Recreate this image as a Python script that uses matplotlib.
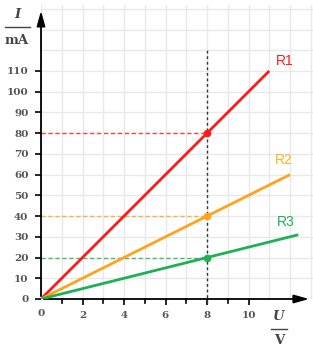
import matplotlib
matplotlib.use("Agg")
import matplotlib.pyplot as plt
from matplotlib.lines import Line2D

# U-I characteristics of three resistors
names = ["R1", "R2", "R3"]
u_end = [11, 12, 12.4]          # V, where each line stops
i_end = [110, 60, 31]           # mA
colors = ["#ff1a1a", "#ffa31a", "#1db054"]
label_colors = ["#ff1a1a", "#ffb31a", "#1db054"]
label_pos = [(11.75, 115), (11.7, 67), (11.8, 37)]

u_read = 8                      # V, reading line
i_read = [80, 40, 20]           # mA at U = 8 V

x_ticks = [2, 4, 6, 8, 10]
y_ticks = list(range(0, 120, 10))

W, H = 313, 354
fig = plt.figure(figsize=(W / 100, H / 100), dpi=100)
ax = fig.add_axes([41 / W, 55 / H, (W - 41) / W, (299 - 5) / H])
ax.set_xlim(0, 272 / 20.75)
ax.set_ylim(0, 294 / 2.073)

# ticks + grid
ax.set_xticks(x_ticks)
ax.set_yticks(y_ticks)
ax.set_xticks(range(0, 14), minor=True)
ax.set_yticks(range(0, 150, 10), minor=True)
ax.grid(which="both", color="#e8e8e8", lw=1)
ax.set_axisbelow(True)
for s in ax.spines.values():
    s.set_visible(False)
ax.tick_params(which="minor", length=0)
ax.xaxis.set_tick_params(which="major", length=4, width=1.2, pad=5, color="black")
ax.yaxis.set_tick_params(which="major", length=4, width=1.2, pad=5, color="black")
for lab in ax.get_xticklabels() + ax.get_yticklabels():
    lab.set_fontfamily("DejaVu Serif")
    lab.set_fontweight("bold")
    lab.set_fontsize(7.5)
    lab.set_color("#555555")
ax.text(0, -4.6, "0", ha="center", va="top", family="DejaVu Serif", weight="bold",
        fontsize=7.5, color="#555555")
for x in [1, 3, 5, 7, 9]:
    ax.plot([x, x], [0, -2], color="black", lw=1.2, clip_on=False)

# axes with arrows
arrow = dict(arrowstyle="-|>,head_length=0.9,head_width=0.25", color="black", lw=1.3)
ax.annotate("", xy=(272 / 20.75 - 0.05, 0), xytext=(0, 0), arrowprops=arrow,
            annotation_clip=False)
ax.annotate("", xy=(0, 291 / 2.073), xytext=(0, 0), arrowprops=arrow,
            annotation_clip=False)

# reading lines
ax.plot([u_read, u_read], [-2, 120], color="#333333", lw=1, ls=(0, (2, 2)), clip_on=False)
for val, c in zip(i_read, colors):
    ax.plot([0, u_read], [val, val], color=c, lw=1, ls=(0, (3, 2)), alpha=0.8)

# characteristic lines
for n, ue, ie, c, lc, (lx, ly) in zip(names, u_end, i_end, colors, label_colors, label_pos):
    ax.plot([0, ue], [0, ie], color=c, lw=2, solid_capstyle="butt", zorder=3)
    ax.text(lx, ly, n, color=lc, fontsize=10, ha="center", va="center",
            family="Liberation Sans", clip_on=False)
for val, c in zip(i_read, colors):
    ax.plot(u_read, val, marker="o", ms=4.5, color=c, zorder=4)

# unit fractions
txt = dict(family="DejaVu Serif", weight="bold", fontsize=9.5, color="#444444",
           ha="center", va="center")
fig.text(17 / W, 1 - 14 / H, "I", style="italic", **txt)
fig.add_artist(Line2D([5 / W, 30 / W], [1 - 27 / H] * 2, color="#444444", lw=1))
fig.text(17 / W, 1 - 40 / H, "mA", **txt)
fig.text(279 / W, 1 - 317 / H, "U", style="italic", **txt)
fig.add_artist(Line2D([271 / W, 287 / W], [1 - 329 / H] * 2, color="#444444", lw=1))
fig.text(279 / W, 1 - 340 / H, "V", **txt)

fig.savefig("out.png", dpi=100)
